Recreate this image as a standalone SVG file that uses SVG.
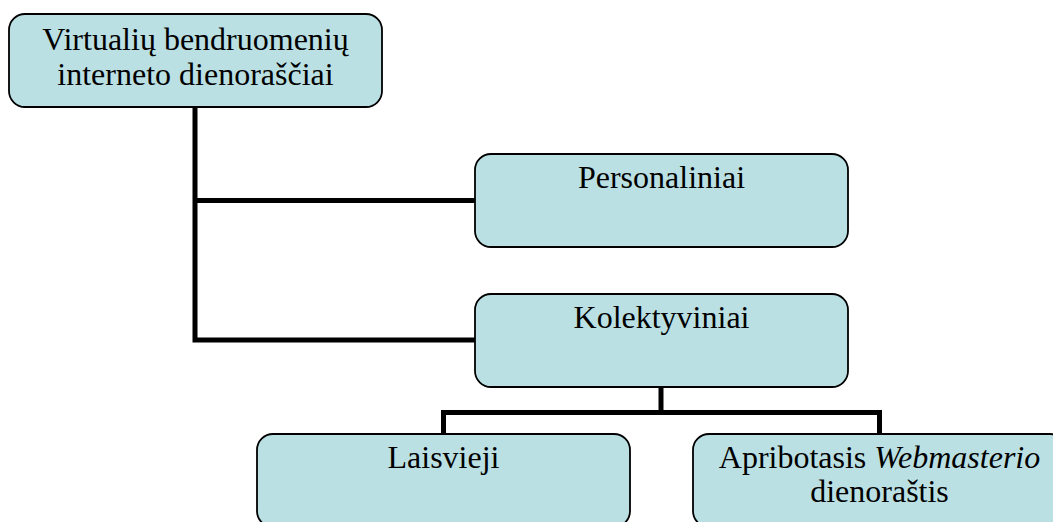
<svg xmlns="http://www.w3.org/2000/svg" width="1053" height="522" viewBox="0 0 1053 522">
  <style>
    .box { fill: #BAE0E4; stroke: #000; stroke-width: 1.8; }
    .lbl { font-family: 'Liberation Serif', 'Times New Roman', serif; font-size: 32px; fill: #000; text-anchor: middle; }
    .conn { fill: none; stroke: #000; stroke-width: 5; stroke-linejoin: miter; stroke-linecap: butt; }
  </style>
  <rect width="1053" height="522" fill="#fff"/>

  <!-- tree connectors -->
  <g id="connectors">
    <path class="conn" d="M195 107 V340 H475"/>
    <path class="conn" d="M195 200.5 H475"/>
    <path class="conn" d="M661 387 V412.5"/>
    <path class="conn" d="M443.5 434 V412.5 H879.5 V434"/>
  </g>

  <g id="root">
    <rect class="box" x="9" y="14" width="373" height="93" rx="16"/>
    <text class="lbl" x="195.5" y="50">Virtualių bendruomenių</text>
    <text class="lbl" x="195.5" y="85">interneto dienoraščiai</text>
  </g>

  <g id="personaliniai">
    <rect class="box" x="475" y="154" width="373" height="93" rx="16"/>
    <text class="lbl" x="661.5" y="188">Personaliniai</text>
  </g>

  <g id="kolektyviniai">
    <rect class="box" x="475" y="294" width="373" height="93" rx="16"/>
    <text class="lbl" x="661.5" y="328">Kolektyviniai</text>
  </g>

  <g id="laisvieji">
    <rect class="box" x="257" y="434" width="373" height="93" rx="16"/>
    <text class="lbl" x="443.5" y="468">Laisvieji</text>
  </g>

  <g id="apribotasis">
    <rect class="box" x="693" y="434" width="373" height="93" rx="16"/>
    <text class="lbl" x="879.5" y="468">Apribotasis <tspan font-style="italic">Webmasterio</tspan></text>
    <text class="lbl" x="879.5" y="502">dienoraštis</text>
  </g>
</svg>
